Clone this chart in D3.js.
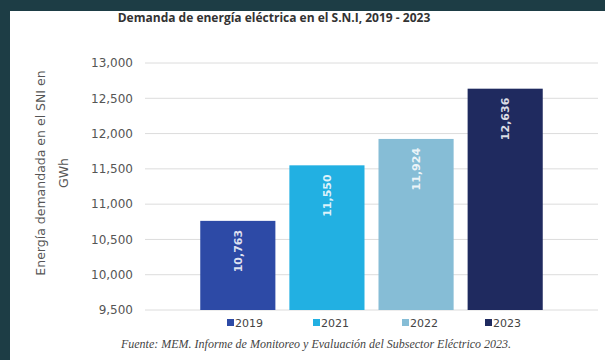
<!DOCTYPE html>
<html>
<head>
<meta charset="utf-8">
<script src="https://cdn.jsdelivr.net/npm/d3@7/dist/d3.min.js"></script>
<style>
  body { margin: 0; background: #1d3d45; }
  svg { display: block; }
</style>
</head>
<body>
<svg id="chart" width="605" height="360"></svg>
<script>
// data
const years = ['2019', '2021', '2022', '2023'];
const demand = [10763, 11550, 11924, 12636];
const colors = ['#2d4aa6', '#22b0e2', '#86bdd6', '#1f2a5f'];
const yTicks = [9500, 10000, 10500, 11000, 11500, 12000, 12500, 13000];

const svg = d3.select('#chart');

// white panel inside the dark frame
svg.append('rect').attr('x', 10).attr('y', 11).attr('width', 595).attr('height', 349).attr('fill', '#ffffff');

const x = d3.scaleBand()
    .domain(years)
    .range([145, 598])
    .paddingInner(0.157)
    .paddingOuter(0.62);

const y = d3.scaleLinear()
    .domain([9500, 13000])
    .range([310, 63]);

// gridlines
svg.append('g')
    .selectAll('line')
    .data(yTicks)
    .join('line')
    .attr('x1', 145).attr('x2', 598)
    .attr('y1', d => y(d)).attr('y2', d => y(d))
    .attr('stroke', '#dcdcdc').attr('stroke-width', 1);

// y axis labels
const yAxis = d3.axisLeft(y).tickValues(yTicks).tickSize(0).tickPadding(0).tickFormat(d3.format(','));
const yg = svg.append('g').attr('transform', 'translate(133,0)').call(yAxis);
yg.select('.domain').remove();
yg.selectAll('text')
    .attr('font-family', 'DejaVu Sans, sans-serif')
    .attr('font-size', 12)
    .attr('fill', '#555');

// bars
svg.append('g')
    .selectAll('rect')
    .data(years)
    .join('rect')
    .attr('x', d => x(d))
    .attr('y', (d, i) => y(demand[i]))
    .attr('width', x.bandwidth())
    .attr('height', (d, i) => y(9500) - y(demand[i]))
    .attr('fill', (d, i) => colors[i]);

// value labels, rotated
svg.append('g')
    .selectAll('text')
    .data(years)
    .join('text')
    .attr('transform', (d, i) => `translate(${x(d) + x.bandwidth() / 2 + 4},${y(demand[i]) + 9}) rotate(-90)`)
    .attr('text-anchor', 'end')
    .attr('font-family', 'DejaVu Sans, sans-serif')
    .attr('font-size', 11)
    .attr('font-weight', 'bold')
    .attr('fill', '#ffffff')
    .attr('fill-opacity', 0.85)
    .text((d, i) => d3.format(',')(demand[i]));

// title
svg.append('text')
    .attr('x', 274).attr('y', 22)
    .attr('text-anchor', 'middle')
    .attr('font-family', 'Open Sans, sans-serif')
    .attr('font-size', 12)
    .attr('font-weight', 'bold')
    .attr('fill', '#333')
    .text('Demanda de energía eléctrica en el S.N.I, 2019 - 2023');

// y axis title
const yt = svg.append('text')
    .attr('transform', 'translate(0,173) rotate(-90)')
    .attr('text-anchor', 'middle')
    .attr('font-family', 'DejaVu Sans, sans-serif')
    .attr('font-size', 12.5)
    .attr('fill', '#555');
yt.append('tspan').attr('x', 0).attr('y', 45).text('Energía demandada en el SNI en');
yt.append('tspan').attr('x', 0).attr('y', 68).text('GWh');

// legend
const legendX = [227, 313, 402, 485];
const lg = svg.append('g')
    .selectAll('g')
    .data(years)
    .join('g')
    .attr('transform', (d, i) => `translate(${legendX[i]},323)`);
lg.append('rect').attr('x', 0).attr('y', -4).attr('width', 7).attr('height', 7)
    .attr('fill', (d, i) => colors[i]);
lg.append('text').attr('x', 8).attr('y', 4)
    .attr('font-family', 'DejaVu Sans, sans-serif')
    .attr('font-size', 11)
    .attr('fill', '#444')
    .text(d => d);

// source note
svg.append('text')
    .attr('x', 316).attr('y', 348)
    .attr('text-anchor', 'middle')
    .attr('font-family', 'Liberation Serif, serif')
    .attr('font-style', 'italic')
    .attr('font-size', 12)
    .attr('fill', '#444')
    .text('Fuente: MEM. Informe de Monitoreo y Evaluación del Subsector Eléctrico 2023.');
</script>
</body>
</html>
